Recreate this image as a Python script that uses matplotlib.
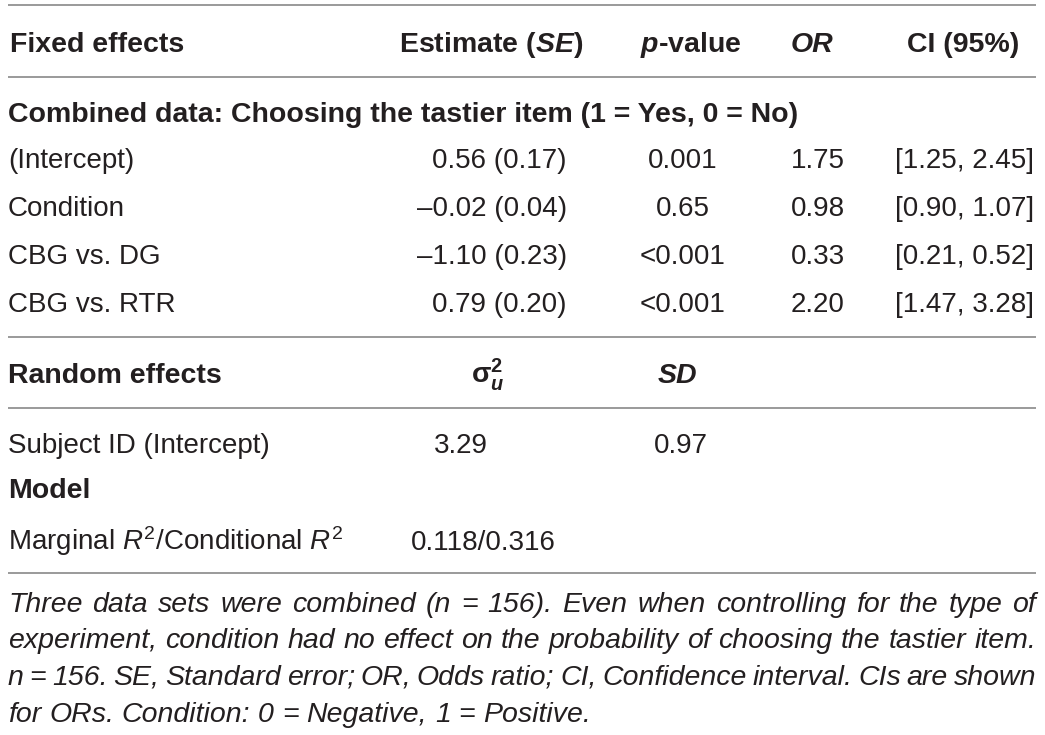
import matplotlib
matplotlib.use("Agg")
import matplotlib.pyplot as plt

plt.rcParams['font.family'] = ['Liberation Sans', 'DejaVu Sans']
plt.rcParams['mathtext.fontset'] = 'custom'
plt.rcParams['mathtext.rm'] = 'Liberation Sans'
plt.rcParams['mathtext.it'] = 'Liberation Sans:italic'
plt.rcParams['mathtext.bf'] = 'Liberation Sans:bold'
plt.rcParams['mathtext.bfit'] = 'Liberation Sans:italic:bold'

INK = '#231f20'
RULE = '#9a9a9a'

# table content
fixed_header = ['Fixed effects', 'Estimate ($\\mathbfit{SE}$)', '$\\mathbfit{p}$-value', 'OR', 'CI (95%)']
block_title = 'Combined data: Choosing the tastier item (1 = Yes, 0 = No)'
terms = ['(Intercept)', 'Condition', 'CBG vs. DG', 'CBG vs. RTR']
estimates = ['0.56 (0.17)', '\u20130.02 (0.04)', '\u20131.10 (0.23)', '0.79 (0.20)']
p_values = ['0.001', '0.65', '<0.001', '<0.001']
odds = ['1.75', '0.98', '0.33', '2.20']
ci = ['[1.25, 2.45]', '[0.90, 1.07]', '[0.21, 0.52]', '[1.47, 3.28]']

random_header = ['Random effects', r'$\mathregular{\sigma}^{\mathbf{2}}_{\mathbfit{u}}$', 'SD']
random_term = 'Subject ID (Intercept)'
random_var = '3.29'
random_sd = '0.97'

model_title = 'Model'
model_label = r'Marginal $\mathit{R}^{2}$/Conditional $\mathit{R}^{2}$'
model_value = '0.118/0.316'

note_lines = [
    'Three data sets were combined (n = 156). Even when controlling for the type of',
    'experiment, condition had no effect on the probability of choosing the tastier item.',
    'n = 156. SE, Standard error; OR, Odds ratio; CI, Confidence interval. CIs are shown',
    'for ORs. Condition: 0 = Negative, 1 = Positive.',
]

W, H = 1045, 735
fig = plt.figure(figsize=(W / 100, H / 100), dpi=100)
ax = fig.add_axes([0, 0, 1, 1])
ax.set_xlim(0, W)
ax.set_ylim(H, 0)
ax.axis('off')

body = 20
head = 20.5
left, right = 8, 1036

for y in [5, 77, 337, 408, 573]:
    ax.plot([left, right], [y, y], color=RULE, lw=1.4, solid_capstyle='butt')

# header row
hb = dict(fontsize=head, fontweight='bold', color=INK, va='baseline')
ax.text(10, 52, fixed_header[0], ha='left', **hb)
ax.text(583, 52, fixed_header[1], ha='right', **hb)
ax.text(691, 52, fixed_header[2], ha='center', **hb)
ax.text(812, 52, fixed_header[3], ha='center', style='italic', **hb)
ax.text(1019, 52, fixed_header[4], ha='right', **hb)

ax.text(8, 122, block_title, ha='left', **hb)

tb = dict(fontsize=body, color=INK, va='baseline')
row_base = [168, 216, 264, 312]
for i, yb in enumerate(row_base):
    ax.text(8, yb, terms[i], ha='left', **tb)
    ax.text(567, yb, estimates[i], ha='right', **tb)
    ax.text(683, yb, p_values[i], ha='center', **tb)
    ax.text(818, yb, odds[i], ha='center', **tb)
    ax.text(1034, yb, ci[i], ha='right', **tb)

# random effects
ax.text(8, 383, random_header[0], ha='left', **hb)
ax.text(488, 383, random_header[1], ha='center', **hb)
ax.text(677, 383, random_header[2], ha='center', style='italic', **hb)
ax.text(8, 453, random_term, ha='left', **tb)
ax.text(461, 453, random_var, ha='center', **tb)
ax.text(681, 453, random_sd, ha='center', **tb)

# model
ax.text(8, 498, model_title, ha='left', **hb)
ax.text(8, 550, model_label, ha='left', **tb)
ax.text(411, 550, model_value, ha='left', **tb)

# footnote, justified
fig.canvas.draw()
rend = fig.canvas.get_renderer()
probe = ax.text(0, 0, note_lines[1], fontsize=20, style='italic')
wid = probe.get_window_extent(rend).width
probe.remove()
note_size = 20 * (right - left - 6) / wid

note_base = [612, 648.5, 685, 722]
for k, line in enumerate(note_lines):
    words = line.split(' ')
    txts = [ax.text(0, note_base[k], w, fontsize=note_size, style='italic',
                    color=INK, va='baseline', ha='left') for w in words]
    widths = [t.get_window_extent(rend).width for t in txts]
    if k < len(note_lines) - 1:
        gap = (right - left - sum(widths)) / (len(words) - 1)
    else:
        sp = ax.text(0, 0, 'a a', fontsize=note_size, style='italic')
        sp2 = ax.text(0, 0, 'aa', fontsize=note_size, style='italic')
        gap = sp.get_window_extent(rend).width - sp2.get_window_extent(rend).width
        sp.remove()
        sp2.remove()
    x = left
    for t, w in zip(txts, widths):
        t.set_x(x)
        x += w + gap

fig.savefig('out.png', dpi=100, facecolor='white')
